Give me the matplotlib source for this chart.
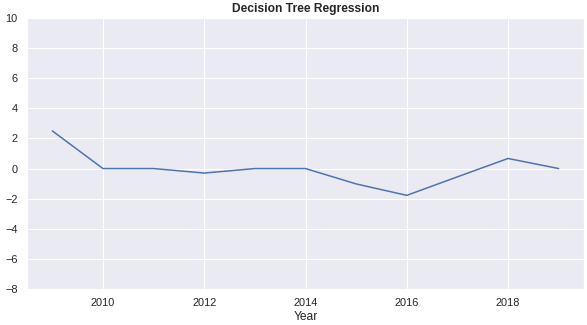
import matplotlib
matplotlib.use("Agg")
import matplotlib.pyplot as plt
import seaborn as sns

# valores
years = [2009, 2010, 2011, 2012, 2013, 2014, 2015, 2016, 2017, 2018, 2019]
pred = [2.5, 0.0, 0.0, -0.3, 0.0, 0.0, -1.02, -1.78, -0.55, 0.67, 0.0]

sns.set_theme(style="darkgrid")
plt.rcParams['font.family'] = ['Liberation Sans', 'DejaVu Sans']

fig = plt.figure(figsize=(587 / 72, 325 / 72), dpi=72)
ax = fig.add_axes([27 / 587, 36 / 325, 557 / 587, 271 / 325])
ax.plot(years, pred, color="#4c72b0", linewidth=1.5)
ax.set_ylim(-8, 10)
ax.set_yticks(range(-8, 11, 2))
ax.set_xlim(2008.5, 2019.5)
ax.set_xlabel("Year", fontsize=12, labelpad=3)
ax.set_title("Decision Tree Regression", fontsize=12, fontweight="bold", pad=6)
ax.tick_params(labelsize=11)

fig.savefig("out.png", dpi=72)
